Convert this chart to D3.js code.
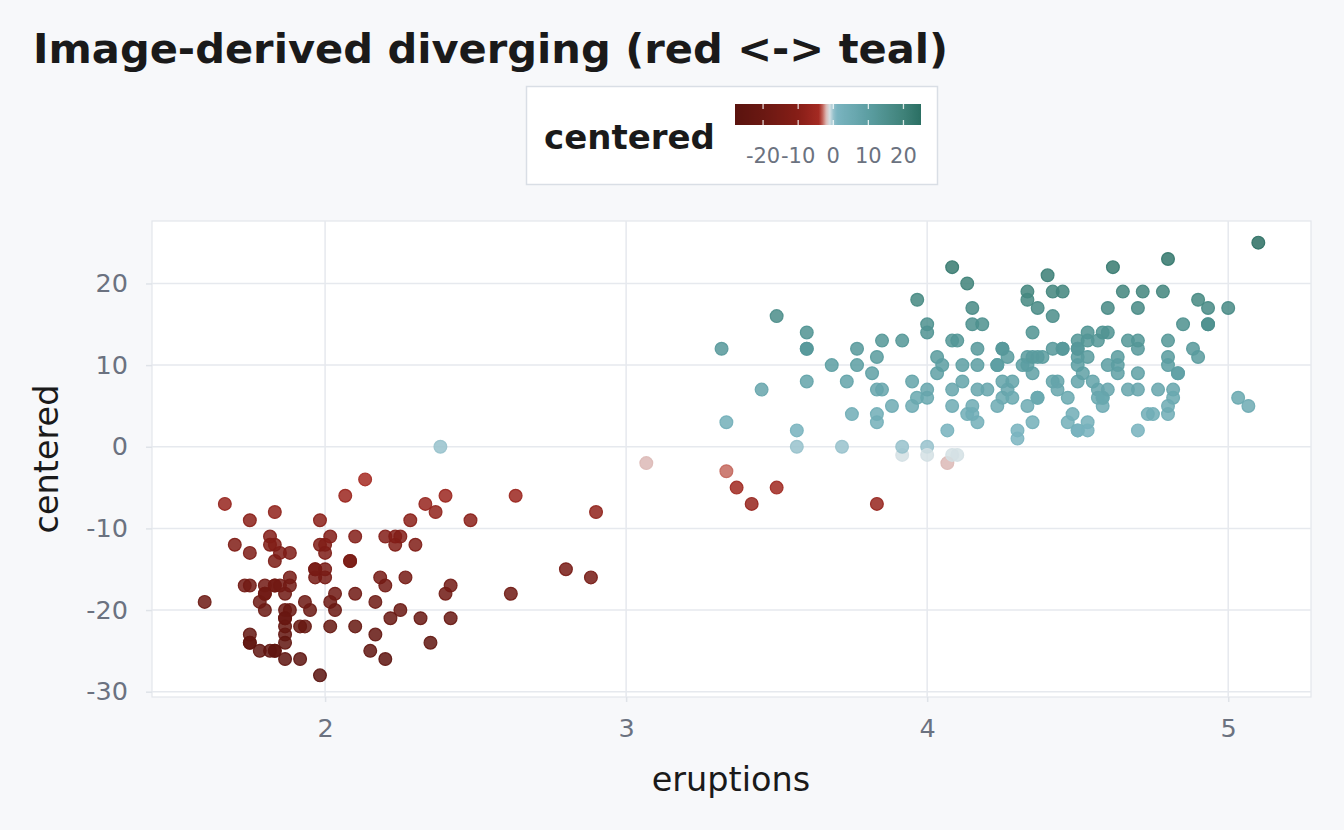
<!DOCTYPE html>
<html>
<head>
<meta charset="utf-8">
<script src="https://cdn.jsdelivr.net/npm/d3@7"></script>
<style>
html,body{margin:0;padding:0;background:#f7f8fa;}
svg{display:block;font-family:"DejaVu Sans",sans-serif;}
</style>
</head>
<body>
<svg id="chart" width="1344" height="830"></svg>
<script>
const eruptions = [
3.600,1.800,3.333,2.283,4.533,2.883,4.700,3.600,1.950,4.350,
1.833,3.917,4.200,1.750,4.700,2.167,1.750,4.800,1.600,4.250,
1.800,1.750,3.450,3.067,4.533,3.600,1.967,4.083,3.850,4.433,
4.300,4.467,3.367,4.033,3.833,2.017,1.867,4.833,1.833,4.783,
4.350,1.883,4.567,1.750,4.533,3.317,3.833,2.100,4.633,2.000,
4.800,4.716,1.833,4.833,1.733,4.883,3.717,1.667,4.567,4.317,
2.233,4.500,1.750,4.800,1.817,4.400,4.167,4.700,2.067,4.700,
4.033,1.967,4.500,4.000,1.983,5.067,2.017,4.567,3.883,3.600,
4.133,4.333,4.100,2.633,4.067,4.933,3.950,4.517,2.167,4.000,
2.200,4.333,1.867,4.817,1.833,4.300,4.667,3.750,1.867,4.900,
2.483,4.367,2.100,4.500,4.050,1.867,4.700,1.783,4.850,3.683,
4.733,2.300,4.900,4.417,1.700,4.633,2.317,4.600,1.817,4.417,
2.617,4.067,4.250,1.967,4.600,3.767,1.917,4.500,2.267,4.650,
1.867,4.167,2.800,4.333,1.833,4.383,1.883,4.933,2.033,3.733,
4.233,2.233,4.533,4.817,4.333,1.983,4.633,2.017,5.100,1.800,
5.033,4.000,2.400,4.600,3.567,4.000,4.500,4.083,1.800,3.967,
2.200,4.150,2.000,3.833,3.500,4.583,2.367,5.000,1.933,4.617,
1.917,2.083,4.583,3.333,4.167,4.333,4.500,2.417,4.000,4.167,
1.883,4.583,4.250,3.767,2.033,4.433,4.083,1.833,4.417,2.183,
4.800,1.833,4.800,4.100,3.966,4.233,3.500,4.366,2.250,4.667,
2.100,4.350,4.133,1.867,4.600,1.783,4.367,3.850,1.933,4.500,
2.383,4.700,1.867,3.833,3.417,4.233,2.400,4.800,2.000,4.150,
1.867,4.267,1.750,4.483,4.000,4.117,4.083,4.267,3.917,4.550,
4.083,2.417,4.183,2.217,4.450,1.883,1.850,4.283,3.950,2.333,
4.150,2.350,4.933,2.900,4.583,3.833,2.083,4.367,2.133,4.350,
2.200,4.450,3.567,4.500,4.150,3.817,3.917,4.450,2.000,4.283,
4.767,4.533,1.850,4.250,1.983,2.250,4.750,4.117,2.150,4.417,
1.817,4.467];

const centered = [
8,-17,3,-9,14,-16,17,14,-20,14,
-17,13,7,-24,12,-19,-9,13,-19,8,
-20,-24,7,-2,3,12,-16,5,7,8,
2,6,-5,9,3,-19,-23,9,-12,19,
9,-13,13,-13,2,12,-7,-18,11,-12,
4,19,-17,9,-17,12,0,-7,6,10,
-12,13,-23,11,-11,21,7,7,-6,2,
11,-15,8,0,-9,5,-11,7,5,12,
4,11,-1,-6,2,17,5,9,-23,15,
-11,19,-21,7,-8,1,13,4,-20,11,
-9,17,-22,12,10,-24,13,-19,15,10,
4,-12,18,8,-12,10,-21,14,-12,16,
-18,-2,6,-15,17,10,-26,11,-16,19,
-26,12,-15,18,-25,11,-20,15,-18,8,
10,-11,11,6,5,-12,9,-22,25,-18,
6,6,-6,10,0,-1,10,22,-18,18,
-26,15,-13,7,-5,5,-8,17,-19,22,
-22,-14,6,-3,10,10,2,-21,14,3,
-16,6,12,12,-20,7,13,-25,12,-16,
10,-14,5,13,6,10,16,6,-20,7,
-11,11,20,-18,7,-25,6,13,-22,12,
0,9,-22,4,-7,5,-18,23,-16,5,
-21,11,-17,4,7,8,7,7,-1,8,
-1,-17,15,-21,19,-17,-17,6,8,-7,
4,-24,15,-8,14,11,-14,11,-4,3,
-17,12,2,2,17,9,0,12,-15,8,
7,13,-13,12,-28,-11,4,10,-25,19,
-25,3];

const xTicks = [2, 3, 4, 5];
const yTicks = [-30, -20, -10, 0, 10, 20];
const legendTicks = [-20, -10, 0, 10, 20];
const colorStops = [-28, -20, -10, -4, -3, -2, -1, 0, 1, 10, 20, 25];
const colorValues = ["#5a130e","#6a1812","#861e17","#a52a22","#c4685e","#dcb9b6",
                     "#d4e0e4","#98c2cc","#7ab4c0","#5c9ea2","#3f8279","#2b6f63"];

const titleText = "Image-derived diverging (red <-> teal)";
const xLabel = "eruptions";
const yLabel = "centered";

const svg = d3.select("#chart");
svg.append("rect").attr("width",1344).attr("height",830).attr("fill","#f7f8fa");

const panel = {left:152, right:1311, top:221, bottom:697};

const xExt = d3.extent(eruptions), yExt = d3.extent(centered);
const xPad = (xExt[1]-xExt[0])*0.05, yPad = (yExt[1]-yExt[0])*0.05;
const x = d3.scaleLinear().domain([xExt[0]-xPad, xExt[1]+xPad]).range([panel.left, panel.right]);
const y = d3.scaleLinear().domain([yExt[0]-yPad, yExt[1]+yPad]).range([panel.bottom, panel.top]);
const color = d3.scaleLinear().domain(colorStops).range(colorValues).interpolate(d3.interpolateRgb).clamp(true);

// title
svg.append("text").attr("x",33).attr("y",63)
  .attr("font-size",41.6).attr("font-weight","bold").attr("fill","#1a1a1a")
  .text(titleText);

// panel
svg.append("rect").attr("x",panel.left).attr("y",panel.top)
  .attr("width",panel.right-panel.left).attr("height",panel.bottom-panel.top)
  .attr("fill","#ffffff").attr("stroke","#e3e6eb").attr("stroke-width",1.2);

const gridColor = "#e6e9ee";
svg.append("g").selectAll("line").data(xTicks).join("line")
  .attr("x1",d=>x(d)).attr("x2",d=>x(d)).attr("y1",panel.top).attr("y2",panel.bottom)
  .attr("stroke",gridColor).attr("stroke-width",1.5);
svg.append("g").selectAll("line").data(yTicks).join("line")
  .attr("y1",d=>y(d)).attr("y2",d=>y(d)).attr("x1",panel.left).attr("x2",panel.right)
  .attr("stroke",gridColor).attr("stroke-width",1.5);

// axes
const xAxis = d3.axisBottom(x).tickValues(xTicks).tickSize(5).tickPadding(17).tickFormat(d3.format("d"));
const yAxis = d3.axisLeft(y).tickValues(yTicks).tickSize(6).tickPadding(18).tickFormat(d=>d<0?"-"+Math.abs(d):String(d));
const gx = svg.append("g").attr("transform",`translate(0,${panel.bottom})`).call(xAxis);
const gy = svg.append("g").attr("transform",`translate(${panel.left},0)`).call(yAxis);
[gx,gy].forEach(g=>{
  g.select(".domain").remove();
  g.selectAll(".tick line").attr("stroke","#dfe3e8").attr("stroke-width",1.5);
  g.selectAll(".tick text").attr("font-size",25.5).attr("fill","#6b7280")
    .attr("font-family","DejaVu Sans, sans-serif");
});
gx.selectAll(".tick text").attr("dy","0.71em");

// axis titles
svg.append("text").attr("x",731).attr("y",791).attr("text-anchor","middle")
  .attr("font-size",33.5).attr("fill","#1a1a1a").text(xLabel);
svg.append("text").attr("transform","translate(58,459) rotate(-90)").attr("text-anchor","middle")
  .attr("font-size",33.5).attr("fill","#1a1a1a").text(yLabel);

// points
const pts = eruptions.map((e,i)=>({x:e, y:centered[i]}));
svg.append("g").selectAll("circle").data(pts).join("circle")
  .attr("cx",d=>x(d.x)).attr("cy",d=>y(d.y)).attr("r",6.4)
  .attr("fill",d=>color(d.y)).attr("fill-opacity",0.85)
  .attr("stroke",d=>color(d.y)).attr("stroke-opacity",0.9).attr("stroke-width",1.2);

// legend
const lg = svg.append("g");
lg.append("rect").attr("x",526.5).attr("y",86.5).attr("width",411).attr("height",98)
  .attr("fill","#ffffff").attr("stroke","#d9dee5").attr("stroke-width",1.5);
lg.append("text").attr("x",544).attr("y",149).attr("font-size",34).attr("font-weight","bold")
  .attr("fill","#1a1a1a").text(yLabel);

const barX0 = 735, barX1 = 921, barY = 104, barH = 21;
const lx = d3.scaleLinear().domain(yExt).range([barX0, barX1]);
const defs = svg.append("defs");
const grad = defs.append("linearGradient").attr("id","lgrad").attr("x1","0%").attr("x2","100%");
d3.range(0,101).forEach(p=>{
  const v = yExt[0] + (yExt[1]-yExt[0])*p/100;
  grad.append("stop").attr("offset",p+"%").attr("stop-color",color(v));
});
lg.append("rect").attr("x",barX0).attr("y",barY).attr("width",barX1-barX0).attr("height",barH)
  .attr("fill","url(#lgrad)");
lg.selectAll("line.tt").data(legendTicks).join("line").attr("class","tt")
  .attr("x1",d=>lx(d)).attr("x2",d=>lx(d)).attr("y1",barY).attr("y2",barY+5)
  .attr("stroke","#ffffff").attr("stroke-opacity",0.8).attr("stroke-width",1.3);
lg.selectAll("line.tb").data(legendTicks).join("line").attr("class","tb")
  .attr("x1",d=>lx(d)).attr("x2",d=>lx(d)).attr("y1",barY+barH-5).attr("y2",barY+barH)
  .attr("stroke","#ffffff").attr("stroke-opacity",0.8).attr("stroke-width",1.3);
lg.selectAll("text.lt").data(legendTicks).join("text").attr("class","lt")
  .attr("x",d=>lx(d)).attr("y",163).attr("text-anchor","middle")
  .attr("font-size",21).attr("fill","#6b7280")
  .text(d=>d<0?"-"+Math.abs(d):String(d));
</script>
</body>
</html>
